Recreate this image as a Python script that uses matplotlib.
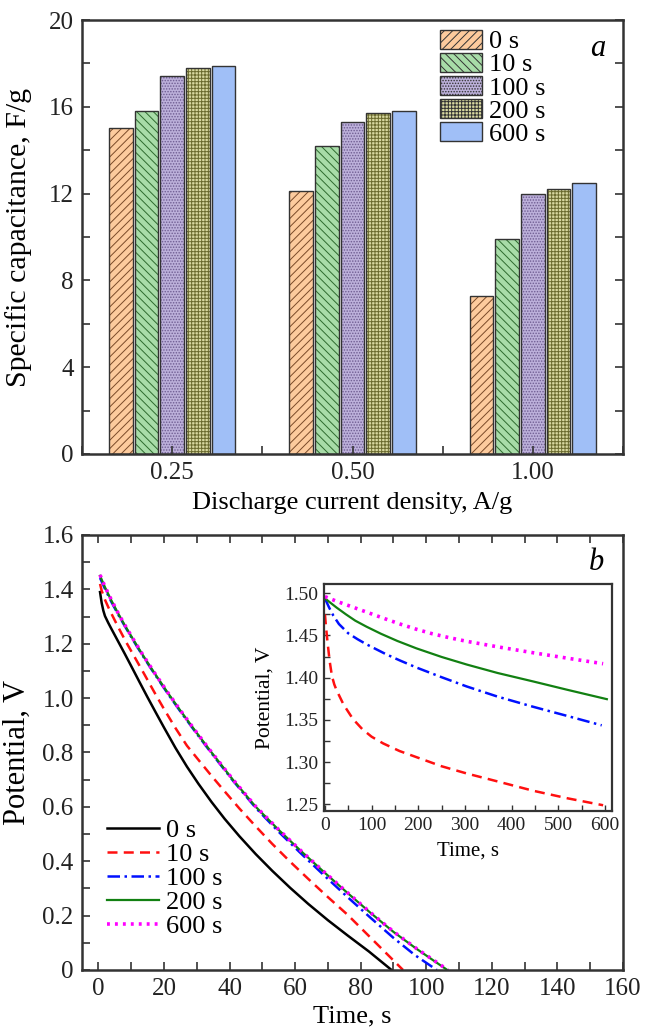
import numpy as np
import matplotlib.pyplot as plt
from matplotlib.patches import Patch
from matplotlib.ticker import MultipleLocator, FuncFormatter

plt.rcParams['font.family'] = ['Liberation Serif', 'DejaVu Serif']
plt.rcParams['hatch.linewidth'] = 0.7
plt.rcParams['axes.edgecolor'] = '#333333'
plt.rcParams['xtick.color'] = '#333333'
plt.rcParams['ytick.color'] = '#333333'
plt.rcParams['xtick.labelcolor'] = '#222222'
plt.rcParams['ytick.labelcolor'] = '#222222'

# ---- panel a: specific capacitance ----
densities = ['0.25', '0.50', '1.00']
times = ['0 s', '10 s', '100 s', '200 s', '600 s']
cap_0s = [15.0, 12.1, 7.3]
cap_10s = [15.8, 14.2, 9.9]
cap_100s = [17.4, 15.3, 12.0]
cap_200s = [17.8, 15.7, 12.2]
cap_600s = [17.9, 15.8, 12.5]
caps = [cap_0s, cap_10s, cap_100s, cap_200s, cap_600s]

fills = ['#FDCB9D', '#A8DCA8', '#BCB0DA', '#D8D8A0', '#A0BFF7']
hatch_cols = ['#7A4A28', '#2E6B2E', '#6E5C91', '#6B6B2E', '#A0BFF7']
hatches = ['////', '\\\\\\\\', '......', '+++++', None]

# ---- panel b: discharge curves ----
t_0s = [0.5, 1, 1.5, 2, 3, 4, 6, 8, 10, 12.5, 14.9, 17.5, 20, 23.5, 27, 30.5, 34.5, 38.5,
        43, 48, 53, 58.5, 64, 70, 76, 82.5, 89.4]
v_0s = [1.39, 1.35, 1.322, 1.302, 1.277, 1.254, 1.209, 1.164, 1.118, 1.06, 1.005, 0.947, 0.892,
        0.817, 0.748, 0.685, 0.618, 0.556, 0.492, 0.426, 0.365, 0.302, 0.243, 0.183, 0.127, 0.068, 0.0]
t_10s = [0.5, 1, 2, 3, 4, 6, 8.5, 11, 14, 17, 20, 23.5, 27, 30.5, 34.5, 38.5, 43, 48, 53,
         58.5, 64, 70, 76, 82, 87.5, 92.9]
v_10s = [1.42, 1.395, 1.362, 1.335, 1.31, 1.262, 1.205, 1.152, 1.088, 1.023, 0.96, 0.89, 0.825,
         0.773, 0.714, 0.657, 0.594, 0.528, 0.464, 0.398, 0.335, 0.268, 0.203, 0.131, 0.065, 0.0]
t_100s = [0.5, 2, 4, 6, 8, 10.5, 13.5, 17, 21.3, 25, 29.5, 34, 41, 48, 55, 62, 69, 76, 83,
          90, 96.5, 103.2]
v_100s = [1.442, 1.402, 1.353, 1.308, 1.266, 1.215, 1.156, 1.091, 1.014, 0.951, 0.877, 0.805,
          0.697, 0.596, 0.508, 0.426, 0.346, 0.268, 0.192, 0.118, 0.055, 0.0]
t_200s = [0.5, 2, 4, 6, 8, 10.5, 13.5, 17, 21.3, 25, 29.5, 34, 41, 48, 55, 62, 69, 76, 83,
          90, 97, 106.4]
v_200s = [1.45, 1.408, 1.358, 1.312, 1.269, 1.218, 1.159, 1.094, 1.017, 0.954, 0.88, 0.808,
          0.70, 0.60, 0.515, 0.435, 0.358, 0.283, 0.21, 0.14, 0.078, 0.0]
t_600s = [0.5, 2, 4, 6, 8, 10.5, 13.5, 17, 21.3, 25, 29.5, 34, 41, 48, 55, 62, 69, 76, 83,
          90, 97, 106.6]
v_600s = [1.453, 1.41, 1.36, 1.313, 1.27, 1.219, 1.16, 1.095, 1.018, 0.955, 0.881, 0.809,
          0.701, 0.601, 0.516, 0.436, 0.359, 0.284, 0.211, 0.141, 0.079, 0.0]

# ---- inset: long-time potential ----
ti_10s = [0, 2, 5, 10, 15, 20, 25, 40, 60, 80, 100, 125, 160, 200, 250, 304, 370, 446, 520, 596]
vi_10s = [1.475, 1.462, 1.445, 1.42, 1.402, 1.392, 1.385, 1.368, 1.351, 1.339, 1.33, 1.322, 1.313,
          1.305, 1.295, 1.2864, 1.277, 1.266, 1.257, 1.2488]
ti_100s = [0, 4, 9, 18, 30, 50, 70, 89, 130, 160, 196, 250, 304, 370, 446, 520, 593]
vi_100s = [1.494, 1.489, 1.483, 1.4735, 1.4635, 1.4525, 1.4455, 1.4395, 1.428, 1.4205, 1.412,
           1.4005, 1.3895, 1.3775, 1.3655, 1.3545, 1.3435]
ti_200s = [0, 10, 25, 45, 65, 89, 120, 155, 196, 250, 304, 370, 446, 520, 604]
vi_200s = [1.494, 1.4895, 1.483, 1.475, 1.4675, 1.4604, 1.452, 1.4435, 1.4347, 1.4245, 1.4155,
           1.4055, 1.3955, 1.3855, 1.3745]
ti_600s = [0, 25, 50, 75, 100, 130, 161, 195, 230, 265, 304, 370, 446, 520, 596]
vi_600s = [1.496, 1.4905, 1.4855, 1.4805, 1.4755, 1.4695, 1.4635, 1.4575, 1.452, 1.4475, 1.443,
           1.4365, 1.4295, 1.423, 1.4165]

styles = {
    '0 s': dict(color='black', ls='-', lw=1.8),
    '10 s': dict(color='#FF1010', ls=(0, (4, 2.5)), lw=1.8),
    '100 s': dict(color='#0010FF', ls=(0, (5, 1.8, 1, 1.8)), lw=1.8),
    '200 s': dict(color='#128012', ls='-', lw=1.6),
    '600 s': dict(color='#FF00FF', ls=(0, (0.8, 1.4)), lw=2.6),
}

fig = plt.figure(figsize=(6.56, 10.31), dpi=100)

# panel a
ax1 = fig.add_axes([0.125, 0.5597, 0.8247, 0.4209])
x = np.arange(len(densities))
pitch = 0.142
width = 0.131
for i, lab in enumerate(times):
    pos = x + (i - 2) * pitch
    ax1.bar(pos, caps[i], width, color=fills[i], edgecolor=hatch_cols[i],
            hatch=hatches[i], linewidth=0)
    ax1.bar(pos, caps[i], width, fill=False, edgecolor='#333333', linewidth=1.0)

ax1.set_xlim(-0.5, 2.5)
ax1.set_ylim(0, 20)
ax1.set_xticks(x)
ax1.set_xticklabels(densities)
ax1.xaxis.set_minor_locator(MultipleLocator(0.5))
ax1.yaxis.set_major_locator(MultipleLocator(4))
ax1.yaxis.set_minor_locator(MultipleLocator(2))
ax1.tick_params(which='both', direction='in', labelsize=18, width=1.2, length=6, pad=6)
ax1.tick_params(axis='y', which='both', right=True)
ax1.set_ylabel('Specific capacitance, F/g', fontsize=21.5)
ax1.set_xlabel('Discharge current density, A/g', fontsize=19)
ax1.yaxis.set_label_coords(-0.092, 0.5)
ax1.xaxis.set_label_coords(0.5, -0.088)
for s in ax1.spines.values():
    s.set_linewidth(1.8)

handles = [Patch(facecolor=fills[i], edgecolor='#333333', hatch=hatches[i], linewidth=1.0)
           for i in range(len(times))]
ax1.legend(handles, times, loc='upper left', bbox_to_anchor=(0.661, 0.978), frameon=False,
           fontsize=19, handlelength=1.6, handleheight=0.75, labelspacing=-0.03,
           handletextpad=0.28, borderpad=0, borderaxespad=0)
ax1.text(0.954, 0.935, 'a', transform=ax1.transAxes, fontsize=22, style='italic',
         ha='center', va='center')

# panel b
ax2 = fig.add_axes([0.125, 0.0592, 0.8247, 0.4219])
curves = [(t_0s, v_0s), (t_10s, v_10s), (t_100s, v_100s), (t_200s, v_200s), (t_600s, v_600s)]
for lab, (tt, vv) in zip(times, curves):
    ax2.plot(tt, vv, label=lab, **styles[lab])
ax2.set_xlim(-5, 160)
ax2.set_ylim(0, 1.6)
ax2.xaxis.set_major_locator(MultipleLocator(20))
ax2.xaxis.set_minor_locator(MultipleLocator(10))
ax2.yaxis.set_major_locator(MultipleLocator(0.2))
ax2.yaxis.set_minor_locator(MultipleLocator(0.1))
ax2.yaxis.set_major_formatter(FuncFormatter(lambda v, p: '0' if abs(v) < 1e-9 else f'{v:.1f}'))
ax2.tick_params(which='both', direction='in', labelsize=18, width=1.2, top=True, length=6, pad=6)
ax2.set_ylabel('Potential, V', fontsize=22)
ax2.set_xlabel('Time, s', fontsize=19)
ax2.yaxis.set_label_coords(-0.092, 0.5)
ax2.xaxis.set_label_coords(0.5, -0.082)
for s in ax2.spines.values():
    s.set_linewidth(1.8)
ax2.legend(loc='upper left', bbox_to_anchor=(0.046, 0.348), frameon=False, fontsize=19,
           handlelength=1.98, handletextpad=0.25, labelspacing=0.02,
           borderpad=0, borderaxespad=0)
ax2.text(0.951, 0.936, 'b', transform=ax2.transAxes, fontsize=22, style='italic',
         ha='center', va='center')

# inset
ax3 = fig.add_axes([0.4939, 0.2134, 0.439, 0.2202])
inset = [('10 s', ti_10s, vi_10s), ('100 s', ti_100s, vi_100s),
         ('200 s', ti_200s, vi_200s), ('600 s', ti_600s, vi_600s)]
for lab, tt, vv in inset:
    ax3.plot(tt, vv, **styles[lab])
ax3.set_xlim(-2, 615)
ax3.set_ylim(1.242, 1.511)
ax3.xaxis.set_major_locator(MultipleLocator(100))
ax3.xaxis.set_minor_locator(MultipleLocator(50))
ax3.yaxis.set_major_locator(MultipleLocator(0.05))
ax3.yaxis.set_minor_locator(MultipleLocator(0.025))
ax3.yaxis.set_major_formatter(FuncFormatter(lambda v, p: f'{v:.2f}'))
ax3.tick_params(which='both', direction='in', labelsize=14, width=1.0, length=4, pad=4)
ax3.set_ylabel('Potential, V', fontsize=15.5)
ax3.set_xlabel('Time, s', fontsize=15)
ax3.yaxis.set_label_coords(-0.17, 0.5)
ax3.xaxis.set_label_coords(0.5, -0.135)
for s in ax3.spines.values():
    s.set_linewidth(1.6)

fig.savefig('out.png', dpi=100)
